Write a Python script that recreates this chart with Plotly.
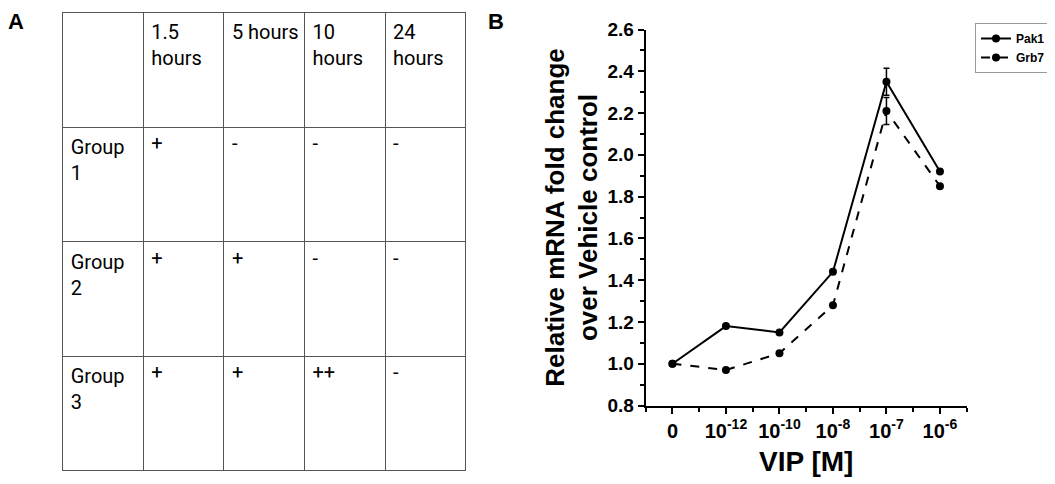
import plotly.graph_objects as go

# ---------------- data ----------------
# Panel A table
time_labels = ["", "1.5<br>hours", "5\u00a0hours<br>", "10<br>hours", "24<br>hours"]
group_labels = ["Group<br>1", "Group<br>2", "Group<br>3"]
col_15h = ["+", "+", "+"]
col_5h = ["-", "+", "+"]
col_10h = ["-", "-", "++"]
col_24h = ["-", "-", "-"]

# Panel B line chart
vip_labels = ["0", "10<sup>-12</sup>", "10<sup>-10</sup>", "10<sup>-8</sup>",
              "10<sup>-7</sup>", "10<sup>-6</sup>"]
pak1 = [1.00, 1.18, 1.15, 1.44, 2.35, 1.92]
pak1_err = [0.0, 0.0, 0.0, 0.0, 0.065, 0.0]
grb7 = [1.00, 0.97, 1.05, 1.28, 2.21, 1.85]
grb7_err = [0.0, 0.0, 0.0, 0.0, 0.065, 0.0]

# page geometry (browser body has an 8px margin)
OFF = 8
W, H = 1055 - OFF, 484 - OFF


def px(x):
    return (x - OFF) / W


def py(y):
    return 1 - (y - OFF) / H


xpos = list(range(len(vip_labels)))

fig = go.Figure()

table_font = "Roboto, Open Sans, sans-serif"
fig.add_trace(go.Table(
    domain=dict(x=[px(62.7), px(466)], y=[py(473), py(12)]),
    columnwidth=[1, 1, 1, 1, 1],
    header=dict(values=time_labels, align="left", height=115,
                line=dict(color="#555555", width=1), fill=dict(color="white"),
                font=dict(family=table_font, size=20, color="black")),
    cells=dict(values=[group_labels, col_15h, col_5h, col_10h, col_24h],
               align="left", height=114.6,
               line=dict(color="#555555", width=1), fill=dict(color="white"),
               font=dict(family=table_font, size=20, color="black")),
))

fig.add_trace(go.Scatter(
    x=xpos, y=pak1, name="Pak1", mode="lines+markers",
    line=dict(color="black", width=2),
    marker=dict(symbol="circle", size=8, color="black"),
    error_y=dict(type="data", array=pak1_err, color="black", thickness=1.5, width=3),
))
fig.add_trace(go.Scatter(
    x=xpos, y=grb7, name="Grb7", mode="lines+markers",
    line=dict(color="black", width=2, dash="dash"),
    marker=dict(symbol="circle", size=8, color="black"),
    error_y=dict(type="data", array=grb7_err, color="black", thickness=1.5, width=3),
))

bold_font = "Liberation Sans, Arial, sans-serif"
fig.update_layout(
    width=W, height=H,
    margin=dict(l=0, r=0, t=0, b=0),
    paper_bgcolor="white", plot_bgcolor="white",
    showlegend=True,
    legend=dict(x=px(975), y=py(23), xanchor="left", yanchor="top",
                bordercolor="#999999", borderwidth=1, bgcolor="white",
                font=dict(family=bold_font, size=12, color="black", weight="bold"),
                itemwidth=30, tracegroupgap=0),
    xaxis=dict(domain=[px(645.7), px(966.7)], range=[-0.5, 5.5],
               tickmode="array", tickvals=xpos, ticktext=vip_labels,
               showline=True, linecolor="black", linewidth=2,
               ticks="outside", ticklen=6, tickwidth=2, tickcolor="black",
               minor=dict(tickmode="linear", tick0=-0.5, dtick=1, ticks="outside",
                          ticklen=4, tickwidth=2, tickcolor="black"),
               showgrid=False, zeroline=False, automargin=False,
               tickfont=dict(family=bold_font, size=20, color="black", weight="bold"),
               title=dict(text="VIP [M]", standoff=11,
                          font=dict(family=bold_font, size=28, color="black", weight="bold"))),
    yaxis=dict(domain=[py(405.5), py(29.5)], range=[0.8, 2.6],
               tickmode="linear", tick0=0.8, dtick=0.2, tickformat=".1f",
               showline=True, linecolor="black", linewidth=2,
               ticks="outside", ticklen=6, tickwidth=2, tickcolor="black",
               minor=dict(tickmode="linear", tick0=0.8, dtick=0.1, ticks="outside",
                          ticklen=4, tickwidth=2, tickcolor="black"),
               showgrid=False, zeroline=False, automargin=False,
               tickfont=dict(family=bold_font, size=19, color="black", weight="bold"),
               title=dict(text="Relative mRNA fold change<br>over Vehicle control", standoff=2,
                          font=dict(family=bold_font, size=26, color="black", weight="bold"))),
    annotations=[
        dict(text="A", x=px(16), y=1, xref="paper", yref="paper",
             showarrow=False, xanchor="center", yanchor="top", borderpad=0,
             font=dict(family=bold_font, size=22, color="black", weight="bold")),
        dict(text="B", x=px(496), y=1, xref="paper", yref="paper",
             showarrow=False, xanchor="center", yanchor="top", borderpad=0,
             font=dict(family=bold_font, size=22, color="black", weight="bold")),
    ],
)

fig.write_html("out.html")
